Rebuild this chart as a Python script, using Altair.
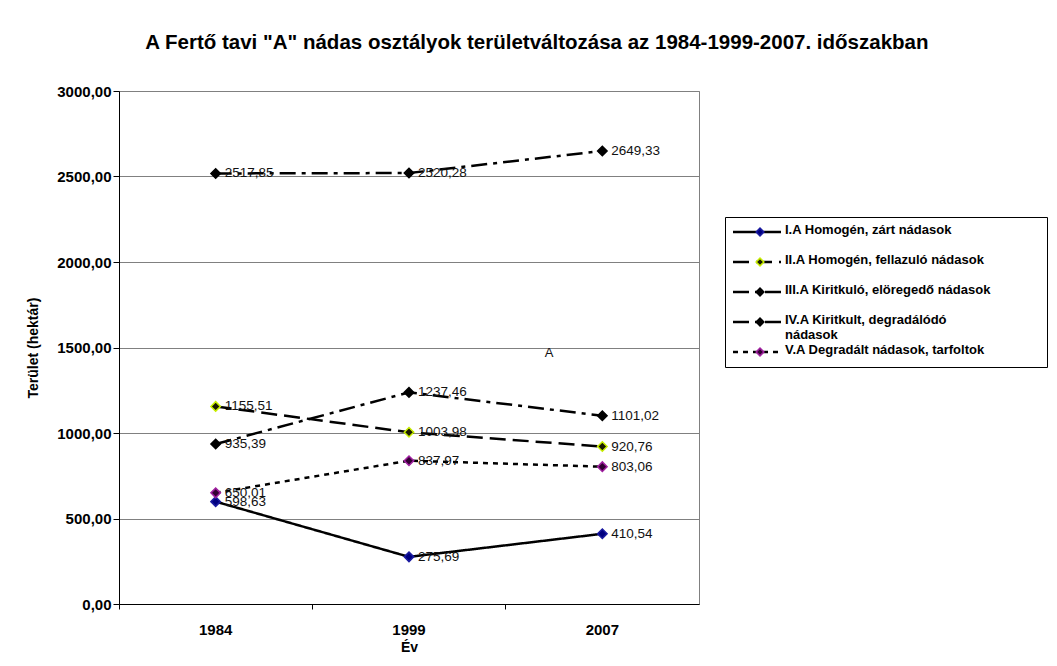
import altair as alt
import pandas as pd

years = ["1984", "1999", "2007"]
series_names = [
    "I.A Homogén, zárt nádasok",
    "II.A Homogén, fellazuló nádasok",
    "III.A Kiritkuló, elöregedő nádasok",
    "IV.A Kiritkult, degradálódó nádasok",
    "V.A Degradált nádasok, tarfoltok",
]
legend_labels = [
    "I.A Homogén, zárt nádasok",
    "II.A Homogén, fellazuló nádasok",
    "III.A Kiritkuló, elöregedő nádasok",
    "IV.A Kiritkult, degradálódó\nnádasok",
    "V.A Degradált nádasok, tarfoltok",
]
values_I = [598.63, 275.69, 410.54]
values_II = [1155.51, 1003.98, 920.76]
values_III = [2517.85, 2520.28, 2649.33]
values_IV = [935.39, 1237.46, 1101.02]
values_V = [650.01, 837.97, 803.06]
all_values = [values_I, values_II, values_III, values_IV, values_V]

dashes = [[1, 0], [16, 7], [16, 6, 4, 6], [16, 6, 4, 6], [5, 5]]
fills = ["#000080", "#1a1a00", "#000000", "#000000", "#330033"]
strokes = ["#1a1aa0", "#c8ee00", "#000000", "#000000", "#a020a0"]

rows = []
for name, vals in zip(series_names, all_values):
    for y, v in zip(years, vals):
        rows.append({"series": name, "year": y, "value": v,
                     "label": f"{v:.2f}".replace(".", ",")})
df = pd.DataFrame(rows)

FONT = "Liberation Sans"

dash_scale = alt.Scale(domain=series_names, range=dashes)
fill_scale = alt.Scale(domain=series_names, range=fills)
stroke_scale = alt.Scale(domain=series_names, range=strokes)

x_enc = alt.X("year:O", sort=years,
              scale=alt.Scale(type="band", paddingInner=0, paddingOuter=0),
              axis=alt.Axis(title="Év", labelAngle=0, labelFontWeight="bold",
                            labelFontSize=15, titleFontSize=14, titleFontWeight="bold",
                            bandPosition=0, tickSize=5, tickColor="#000", domainColor="#000",
                            labelPadding=13, titlePadding=3, labelColor="#000", titleColor="#000"))
y_enc = alt.Y("value:Q",
              scale=alt.Scale(domain=[0, 3000], nice=False),
              axis=alt.Axis(title="Terület (hektár)", values=[0, 500, 1000, 1500, 2000, 2500, 3000],
                            labelExpr="replace(format(datum.value, '.2f'), '.', ',')",
                            labelFontWeight="bold", labelFontSize=15, titleFontSize=14,
                            titleFontWeight="bold", grid=True, gridColor="#808080",
                            tickSize=6, tickColor="#000", domainColor="#000",
                            labelPadding=2, titlePadding=16, labelColor="#000", titleColor="#000"))

base = alt.Chart(df).encode(x=x_enc, y=y_enc)

lines = base.mark_line(color="#000", strokeWidth=2.5).encode(
    strokeDash=alt.StrokeDash("series:N", scale=dash_scale, legend=None),
    detail="series:N",
)
points = base.mark_point(shape="diamond", size=90, filled=True, strokeWidth=1.5, opacity=1).encode(
    fill=alt.Fill("series:N", scale=fill_scale, legend=None),
    stroke=alt.Stroke("series:N", scale=stroke_scale, legend=None),
)
labels = base.mark_text(align="left", baseline="middle", dx=9, fontSize=13.5, font=FONT,
                        color="#111").encode(text="label:N")

stray = alt.Chart(pd.DataFrame({"t": ["A"], "v": [1468]})).mark_text(
    fontSize=13, font=FONT, color="#111").encode(
    x=alt.value(430), y=alt.Y("v:Q", scale=alt.Scale(domain=[0, 3000], nice=False)), text="t:N")

main = alt.layer(lines, points, labels, stray).properties(
    width=580, height=513, view=alt.ViewBackground(stroke="#808080"))

leg_df = pd.DataFrame({"series": series_names, "text": legend_labels})
leg_base = alt.Chart(leg_df).encode(
    y=alt.Y("series:N", sort=series_names, axis=None,
            scale=alt.Scale(type="band", paddingInner=0, paddingOuter=0)))
leg_rule = leg_base.mark_rule(color="#000", strokeWidth=2.5).encode(
    x=alt.value(8), x2=alt.value(56),
    strokeDash=alt.StrokeDash("series:N", scale=dash_scale, legend=None))
leg_pt = leg_base.mark_point(shape="diamond", size=60, filled=True, strokeWidth=1.5, opacity=1).encode(
    x=alt.value(35),
    fill=alt.Fill("series:N", scale=fill_scale, legend=None),
    stroke=alt.Stroke("series:N", scale=stroke_scale, legend=None))
leg_txt = leg_base.mark_text(align="left", baseline="top", dy=-8, fontSize=13, fontWeight="bold",
                             font=FONT, color="#000", lineBreak="\n").encode(
    x=alt.value(60), text="text:N")
legend = alt.layer(leg_rule, leg_pt, leg_txt).properties(
    width=322, height=150, view=alt.ViewBackground(stroke="#000", strokeWidth=1))

spacer = alt.Chart(pd.DataFrame({"a": [0]})).mark_point(opacity=0).encode(
    x=alt.value(0), y=alt.value(0)).properties(
    width=322, height=125, view=alt.ViewBackground(strokeOpacity=0))

right = alt.vconcat(spacer, legend, spacing=0)

chart = alt.hconcat(main, right, spacing=22).properties(
    title=alt.Title('A Fertő tavi "A" nádas osztályok területváltozása az 1984-1999-2007. időszakban',
                    fontSize=20.5, fontWeight="bold", font=FONT, anchor="middle", offset=30,
                    color="#000"),
    padding={"left": 18, "top": 25, "right": 0, "bottom": 0},
).configure(font=FONT).configure_axis(labelFont=FONT, titleFont=FONT)

chart.save("out.html", embed_options={"renderer": "svg", "actions": False})
